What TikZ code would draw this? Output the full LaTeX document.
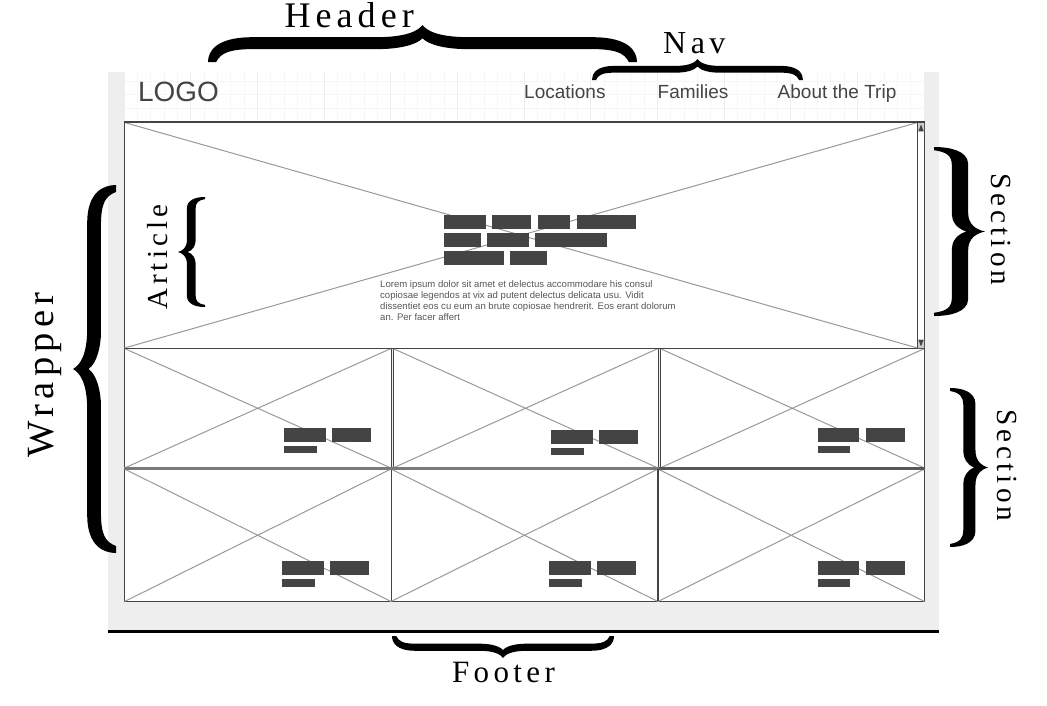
\documentclass[tikz,border=0pt]{standalone}
\usepackage{fontspec}
\setmainfont{Liberation Sans}
\newfontfamily\bracketfont[LetterSpace=14]{Liberation Serif}
\definecolor{wiredark}{HTML}{444444}
\definecolor{crossgray}{HTML}{999999}
\definecolor{pagegray}{HTML}{EEEEEE}
\definecolor{gridminor}{HTML}{F6F6F6}
\definecolor{gridmajor}{HTML}{EEEEEE}
\tikzset{
	cellframe/.style={draw=wiredark,line width=1pt,fill=white},
	crossline/.style={draw=crossgray,line width=1pt},
	textbar/.style={fill=wiredark},
	menutext/.style={anchor=base west,inner sep=0pt,text=wiredark},
	bracketlabel/.style={anchor=base west,inner sep=0pt,text=black,font=\bracketfont},
}
% origin of a brace = its start at tip level, then rotation, length, depth
\newcommand{\curlybrace}[5]{%
	\fill[black,shift={(#1,#2)},rotate=#3,xscale=#4,yscale=#5]
		(0,1) .. controls (0,0.7) and (0.02,0.34) .. (0.1,0.33)
		-- (0.39,0.33) .. controls (0.465,0.33) and (0.49,0.15) .. (0.5,0)
		.. controls (0.51,0.15) and (0.535,0.33) .. (0.61,0.33)
		-- (0.9,0.33) .. controls (0.98,0.34) and (1,0.7) .. (1,1)
		-- (0.981,1) .. controls (0.97,0.75) and (0.95,0.65) .. (0.89,0.65)
		-- (0.6,0.65) .. controls (0.56,0.65) and (0.515,0.55) .. (0.5,0.36)
		.. controls (0.485,0.55) and (0.44,0.65) .. (0.4,0.65)
		-- (0.11,0.65) .. controls (0.05,0.65) and (0.03,0.75) .. (0.019,1) -- cycle;
}
\begin{document}
\begin{tikzpicture}[x=1pt,y=-1pt]
	\useasboundingbox (0,0) rectangle (1047,705);
	% page background and header grid
	\fill [pagegray] (108,72) rectangle (939,631);
	\fill [white] (124,72) rectangle (924,122);
	\foreach \k in {0,...,60} \draw [gridminor] (124+\k*13.333,72) -- (124+\k*13.333,122);
	\foreach \k in {1,2,3} \draw [gridminor] (124,68+\k*13.333) -- (924,68+\k*13.333);
	\foreach \k in {0,...,12} \draw [gridmajor] (124+\k*66.667,72) -- (124+\k*66.667,122);
	\draw [black,line width=3pt] (108,631.5) -- (939,631.5);

	% image placeholders
	\foreach \xa/\ya/\xb/\yb in {124.5/348.5/391/468, 393/348.5/658/468, 660/348.5/924.5/468,
			124.5/469/391/601.5, 391/469/658/601.5, 658/469/924.5/601.5} {
		\draw [cellframe] (\xa,\ya) rectangle (\xb,\yb);
		\draw [crossline] (\xa,\ya) -- (\xb,\yb) (\xa,\yb) -- (\xb,\ya);
	}
	\draw [cellframe] (124.5,122) rectangle (924.5,348.5);
	\draw [crossline] (124.5,122.5) -- (917.5,348) (124.5,348) -- (917.5,122.5);
	\draw [wiredark,line width=2pt] (124,122) -- (925,122);
	\draw [black!52,line width=3pt] (124,468.5) -- (659,468.5);
	\draw [wiredark!90,line width=2.5pt] (659,468.5) -- (925,468.5);
	\draw [wiredark,line width=1.6pt] (658,469) -- (658,601);

	% scroll bar
	\draw [wiredark] (917.5,122) -- (917.5,348);
	\fill [gray!40] (918,123) rectangle (924,132) (918,339) rectangle (924,348);
	\fill [wiredark] (921,124.5) -- (923.5,131) -- (918.5,131) -- cycle;
	\fill [wiredark] (921,346.5) -- (923.5,340) -- (918.5,340) -- cycle;

	% heading and caption bars
	\foreach \xa/\ya/\xb/\yb in {444/215/486/229, 492/215/531/229, 538/215/570/229, 577/215/636/229,
			444/233/481/247, 487/233/529/247, 535/233/607/247, 444/251/504/265, 510/251/547/265,
			284/428/326/442, 332/428/371/442, 284/446/317/453,
			551/430/593/444, 599/430/638/444, 551/448/584/455,
			818/428/859/442, 866/428/905/442, 818/446/850/453,
			282/561/324/575, 330/561/369/575, 282/579/315/587,
			549/561/591/575, 597/561/636/575, 549/579/582/587,
			818/561/859/575, 866/561/905/575, 818/579/850/587}
		\fill [textbar] (\xa,\ya) rectangle (\xb,\yb);

	\node [menutext,anchor=north west,align=left,text=wiredark!90,font=\fontsize{9.55}{11}\selectfont] (bodytext) at (380,280)
		{Lorem ipsum dolor sit amet et delectus accommodare his consul\\
		copiosae legendos at vix ad putent delectus delicata usu. Vidit\\
		dissentiet eos cu eum an brute copiosae hendrerit. Eos erant dolorum\\
		an. Per facer affert};

	% menu
	\node [menutext,font=\fontsize{27.9}{30}\selectfont] (logo) at (138,101) {LOGO};
	\node [menutext,font=\fontsize{19}{22}\selectfont] (locations) at (524,98) {Locations};
	\node [menutext,font=\fontsize{19}{22}\selectfont] (families) at (657.5,98) {Families};
	\node [menutext,font=\fontsize{19}{22}\selectfont] (about) at (777.5,98) {About the Trip};

	% braces
	\curlybrace{208}{25}{0}{429}{37}
	\curlybrace{592}{59}{0}{211}{21}
	\curlybrace{73}{553}{90}{368}{43}
	\curlybrace{178}{307}{90}{110}{27}
	\curlybrace{985}{147}{-90}{169}{51}
	\curlybrace{988}{388}{-90}{159}{38}
	\curlybrace{614}{658}{180}{222}{22}

	% labels
	\node [bracketlabel] (header) at (284.5,27) {\fontsize{36}{36}\selectfont Header};
	\node [bracketlabel] (nav) at (663,53) {\fontsize{32}{32}\selectfont Nav};
	\node [bracketlabel] (footer) at (452,682) {\fontsize{31}{31}\selectfont Footer};
	\node [bracketlabel,rotate=90] (wrapper) at (53,458) {\fontsize{38.5}{38.5}\selectfont Wrapper};
	\node [bracketlabel,rotate=90] (article) at (167,310) {\fontsize{29}{29}\selectfont Article};
	\node [bracketlabel,rotate=-90] (sectiontop) at (991,173) {\fontsize{29.2}{29.2}\selectfont Section};
	\node [bracketlabel,rotate=-90] (sectionlow) at (997,409) {\fontsize{29.2}{29.2}\selectfont Section};
\end{tikzpicture}
\end{document}
